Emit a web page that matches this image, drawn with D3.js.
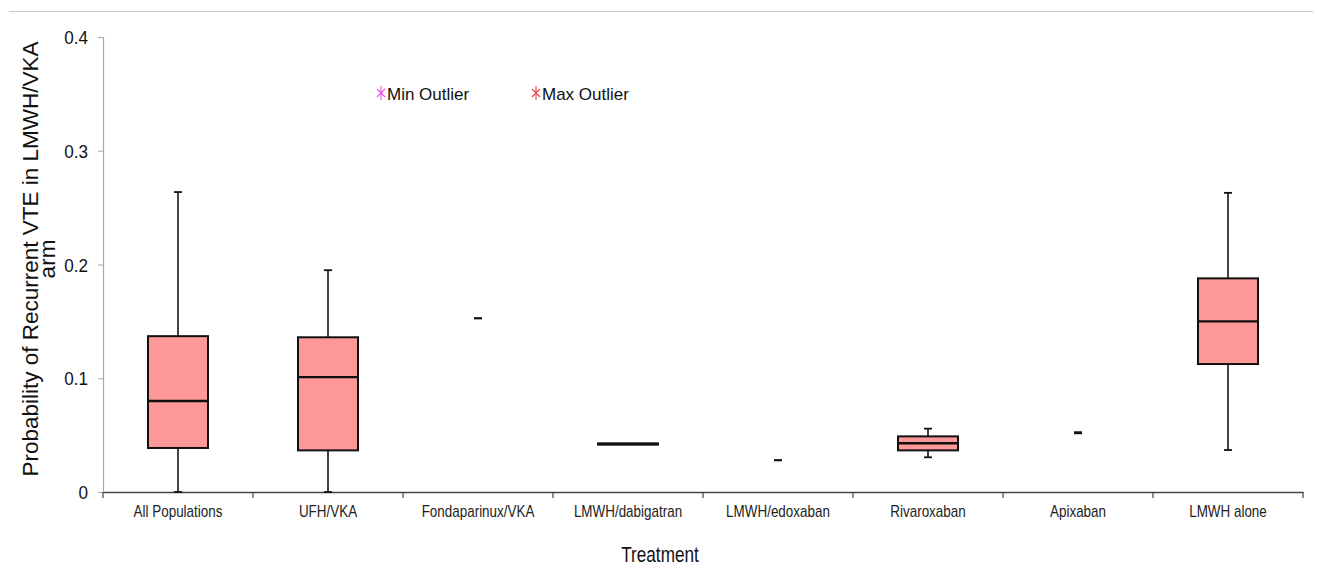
<!DOCTYPE html>
<html><head><meta charset="utf-8">
<script src="https://cdn.jsdelivr.net/npm/d3@7"></script>
<style>body{margin:0;background:#fff}svg{display:block}text{font-family:"Liberation Sans",Arial,sans-serif}</style>
</head><body><svg id="c" width="1318" height="581"></svg>
<script>
const categories = ["All Populations","UFH/VKA","Fondaparinux/VKA","LMWH/dabigatran","LMWH/edoxaban","Rivaroxaban","Apixaban","LMWH alone"];
const q1Values     = [0.0387, 0.0366, null,   0.0417, null,   0.0366, null,   0.1125];
const medianValues = [0.080,  0.101,  null,   0.0422, null,   0.0428, null,   0.150];
const q3Values     = [0.137,  0.136,  null,   0.0427, null,   0.0489, null,   0.1878];
const minValues    = [0,      0,      0.1527, null,   0.0279, 0.0305, 0.0516, 0.0369];
const maxValues    = [0.2637, 0.195,  0.1527, null,   0.0279, 0.0557, 0.0526, 0.263];
const yTicks = [0, 0.1, 0.2, 0.3, 0.4];
const legendItems = ["Min Outlier","Max Outlier"];
const legendColors = ["#f050f0","#f04848"];

const svg = d3.select("#c");
const x = d3.scaleBand().domain(categories).range([103,1303]).padding(0);
const y = d3.scaleLinear().domain([0,0.4]).range([492,37]);
const bw = x.bandwidth()*0.4;

// top rule
svg.append("line").attr("x1",9).attr("x2",1313).attr("y1",11.5).attr("y2",11.5).attr("stroke","#c8c8c8").attr("stroke-width",1);

// y axis
const ya = svg.append("g").attr("transform","translate(103,0)")
  .call(d3.axisLeft(y).tickValues(yTicks).tickSize(5).tickFormat(d=>d===0?"0":d.toFixed(1)));
ya.select(".domain").attr("stroke","#aaa").attr("stroke-width",1.2);
ya.selectAll(".tick line").attr("stroke","#aaa");
ya.selectAll(".tick text").attr("font-size",19).attr("fill","#111").attr("x",0).attr("dy","0.35em")
  .attr("transform","translate(-15,0) scale(0.9,1)");

// x axis
const xa = svg.append("g").attr("transform","translate(0,492)")
  .call(d3.axisBottom(x).tickSize(0).tickFormat(d=>d));
xa.select(".domain").attr("stroke","#444").attr("stroke-width",1.5);
xa.selectAll(".tick text").attr("font-size",16).attr("fill","#222").attr("y",0).attr("dy",0)
  .attr("transform","translate(0,25) scale(0.84,1)");
// category boundary ticks
const bounds = categories.map(c=>x(c)).concat([x(categories[categories.length-1])+x.bandwidth()]);
svg.append("g").selectAll("line").data(bounds).join("line")
  .attr("x1",d=>d).attr("x2",d=>d).attr("y1",492).attr("y2",498).attr("stroke","#444").attr("stroke-width",1.2);

// boxes and whiskers
const data = categories.map((c,i)=>({c,q1:q1Values[i],med:medianValues[i],q3:q3Values[i],min:minValues[i],max:maxValues[i]}));
const g = svg.append("g");
data.forEach(d=>{
  const cx = x(d.c)+x.bandwidth()/2;
  if(d.min!==null && d.max!==null){
    if(d.q1!==null){
      g.append("line").attr("x1",cx).attr("x2",cx).attr("y1",y(d.max)).attr("y2",y(d.q3)).attr("stroke","#444").attr("stroke-width",2);
      g.append("line").attr("x1",cx).attr("x2",cx).attr("y1",y(d.q1)).attr("y2",y(d.min)).attr("stroke","#444").attr("stroke-width",2);
    }
    [d.min,d.max].forEach(v=>{
      g.append("line").attr("x1",cx-4).attr("x2",cx+4).attr("y1",y(v)).attr("y2",y(v)).attr("stroke","#111").attr("stroke-width",1.8);
    });
  }
  if(d.q1!==null){
    g.append("rect").attr("x",cx-bw/2).attr("width",bw).attr("y",y(d.q3)).attr("height",Math.max(0,y(d.q1)-y(d.q3)))
      .attr("fill","#ff9999").attr("stroke","#111").attr("stroke-width",2);
    g.append("line").attr("x1",cx-bw/2).attr("x2",cx+bw/2).attr("y1",y(d.med)).attr("y2",y(d.med)).attr("stroke","#111").attr("stroke-width",2.4);
  }
});

// legend
const legX = [381,536];
legendItems.forEach((t,i)=>{
  const lg = svg.append("g").attr("transform",`translate(${legX[i]},93)`);
  lg.append("path").attr("d","M0,-7V7M-4,-4L4,4M4,-4L-4,4").attr("stroke",legendColors[i]).attr("stroke-width",1.1).attr("fill","none");
  lg.append("text").attr("x",6).attr("y",6.5).attr("font-size",17).attr("fill","#111").text(t);
});

// axis titles
svg.append("text").attr("transform","translate(660,562) scale(0.78,1)").attr("text-anchor","middle").attr("font-size",22).attr("fill","#111").text("Treatment");
const yt = svg.append("text").attr("transform","translate(38,259) rotate(-90)").attr("text-anchor","middle").attr("font-size",22.5).attr("fill","#111");
yt.append("tspan").attr("x",0).attr("y",0).text("Probability of Recurrent VTE in LMWH/VKA");
yt.append("tspan").attr("x",0).attr("y",17).text("arm");
</script></body></html>
